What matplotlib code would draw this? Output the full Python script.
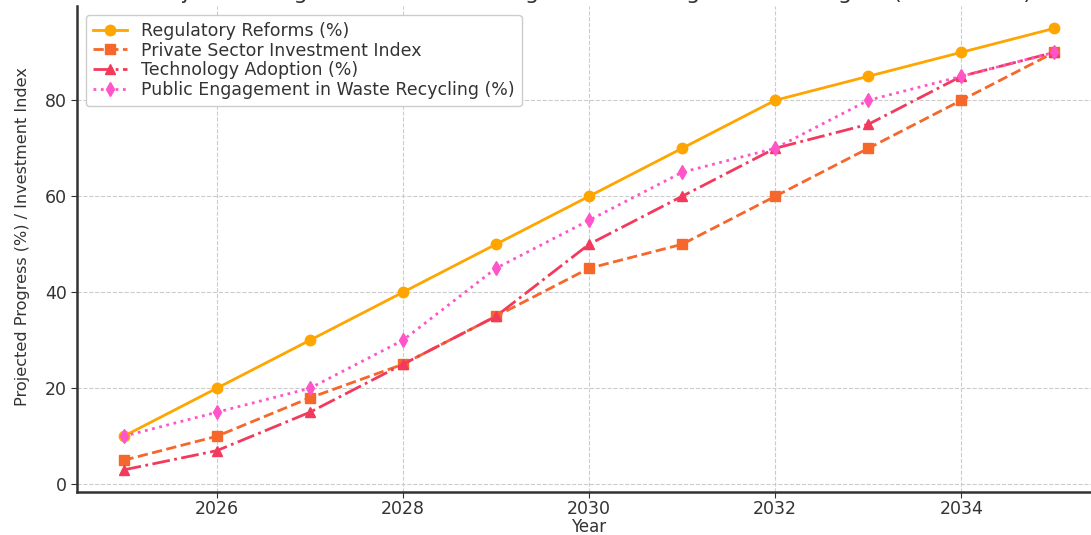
import matplotlib
matplotlib.use("Agg")
import matplotlib.pyplot as plt

plt.rcParams["font.family"] = "DejaVu Sans"

years = [2025, 2026, 2027, 2028, 2029, 2030, 2031, 2032, 2033, 2034, 2035]
regulatory = [10, 20, 30, 40, 50, 60, 70, 80, 85, 90, 95]
private_investment = [5, 10, 18, 25, 35, 45, 50, 60, 70, 80, 90]
tech_adoption = [3, 7, 15, 25, 35, 50, 60, 70, 75, 85, 90]
public_engagement = [10, 15, 20, 30, 45, 55, 65, 70, 80, 85, 90]

text_color = "#333333"

fig = plt.figure(figsize=(10.91, 5.35), dpi=100)
ax = fig.add_axes([0.0706, 0.0804, 0.9386, 0.908])

ax.plot(years, regulatory, color="#FFA500", linestyle="-", marker="o",
        linewidth=2, markersize=7.5, label="Regulatory Reforms (%)")
ax.plot(years, private_investment, color="#F5672A", linestyle="--", marker="s",
        linewidth=2, markersize=7.5, label="Private Sector Investment Index")
ax.plot(years, tech_adoption, color="#F23A5C", linestyle="-.", marker="^",
        linewidth=2, markersize=7.5, label="Technology Adoption (%)")
ax.plot(years, public_engagement, color="#FF55C8", linestyle=":", marker="d",
        linewidth=2, markersize=7.5, label="Public Engagement in Waste Recycling (%)")

ax.set_xlim(2024.5, 2035.5)
ax.set_xticks([2026, 2028, 2030, 2032, 2034])
ax.set_yticks([0, 20, 40, 60, 80])

ax.grid(True, linestyle="--", color="#cccccc", linewidth=0.8)
ax.set_axisbelow(True)

for side in ("top", "right"):
    ax.spines[side].set_visible(False)
for side in ("left", "bottom"):
    ax.spines[side].set_color(text_color)
    ax.spines[side].set_linewidth(1.8)

ax.tick_params(axis="both", labelsize=12.5, colors=text_color, length=4)
ax.tick_params(axis="x", pad=1.5)
ax.set_xlabel("Year", fontsize=12, color=text_color, labelpad=0)
ax.set_ylabel("Projected Progress (%) / Investment Index", fontsize=11.6,
              color=text_color)
ax.yaxis.set_label_coords(-0.046, 0.525)
ax.set_title("Projected Progress of Waste Management Strategies in the Region (2025-2035)",
             fontsize=16, color=text_color, pad=5)

leg = ax.legend(loc="upper left", fontsize=12.5, labelspacing=0.1,
                borderaxespad=0.5, framealpha=1.0, edgecolor="#cccccc")
for t in leg.get_texts():
    t.set_color(text_color)

fig.savefig("out.png", dpi=100)
